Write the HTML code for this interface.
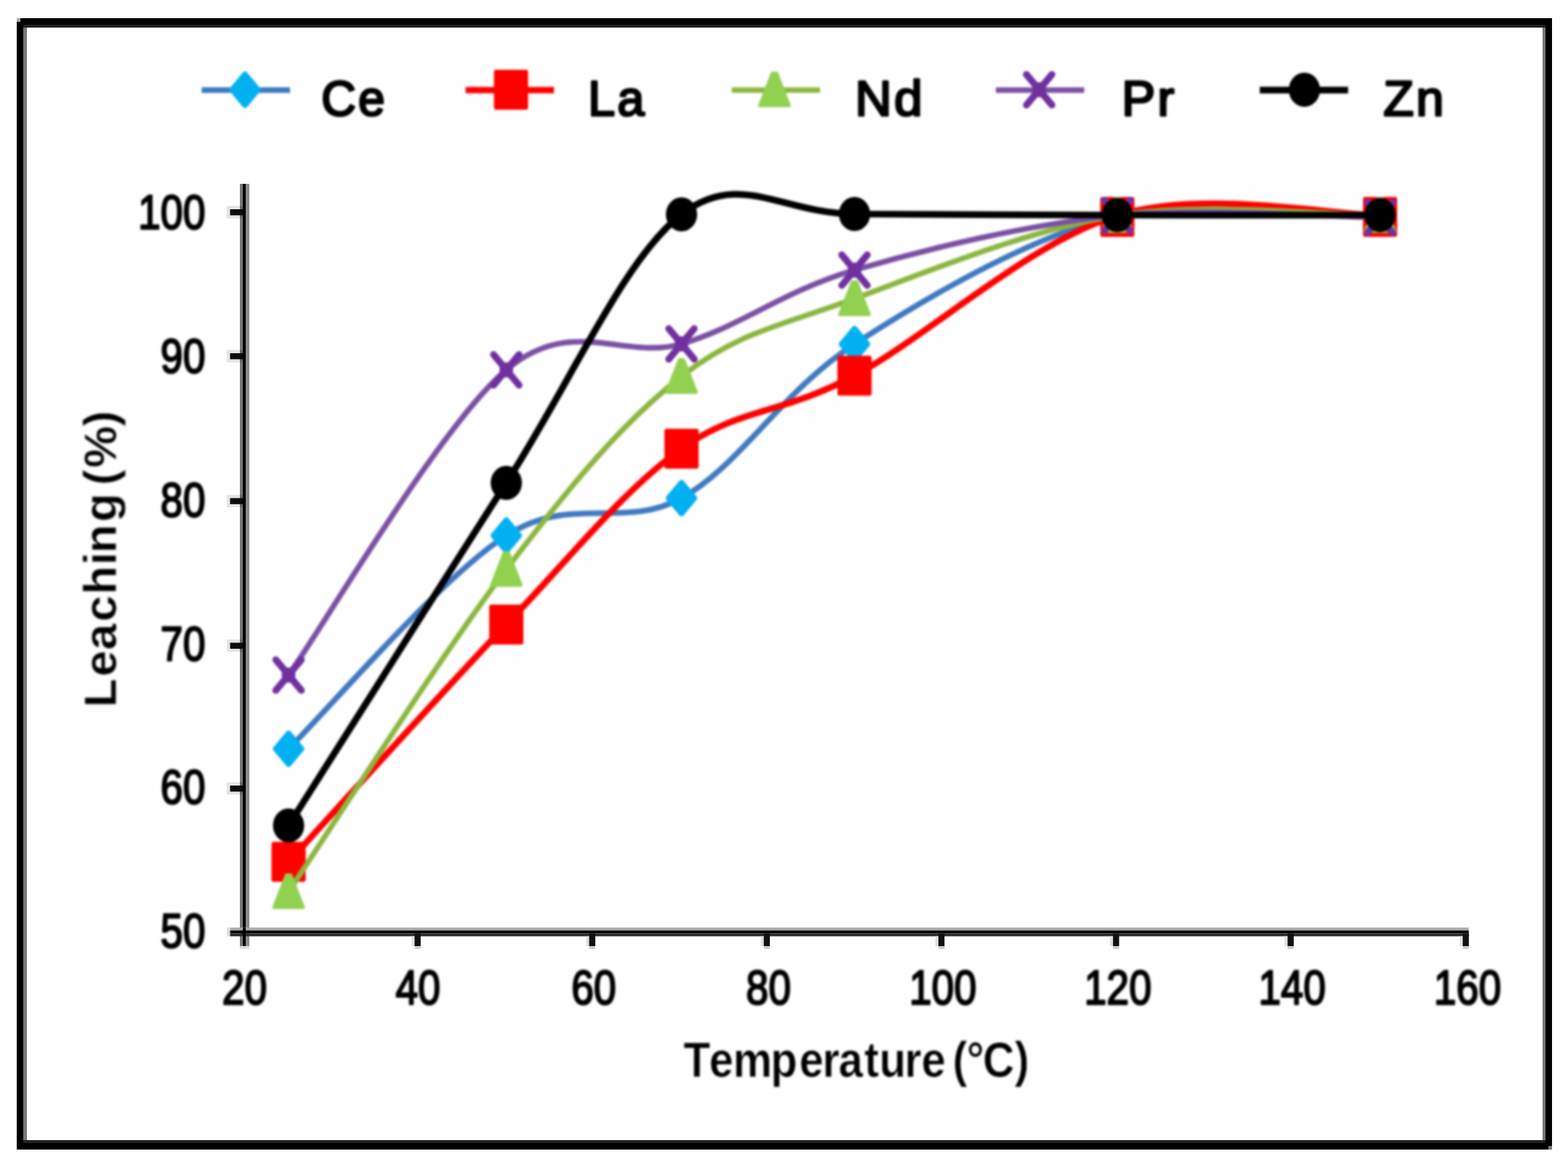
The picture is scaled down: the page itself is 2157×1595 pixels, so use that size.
<!DOCTYPE html>
<html lang="en"><head><meta charset="utf-8"><title>Leaching (%) vs Temperature (°C)</title>
<style>html,body{margin:0;padding:0;background:#fefefe;}body{width:2157px;height:1595px;overflow:hidden;}svg{display:block;}text{font-family:"Liberation Sans",Arial,Helvetica,sans-serif;fill:#000;}</style></head><body>
<svg width="2157" height="1595" viewBox="0 0 2157 1595">
<defs><filter id="soft" x="0" y="0" width="2157" height="1595" filterUnits="userSpaceOnUse" color-interpolation-filters="sRGB"><feGaussianBlur stdDeviation="1.5"/></filter><filter id="soft2" x="0" y="0" width="2157" height="1595" filterUnits="userSpaceOnUse" color-interpolation-filters="sRGB"><feGaussianBlur stdDeviation="0.7"/></filter></defs>
<rect x="0.0" y="0.0" width="2157.0" height="1595.0" fill="#fefefe"/>
<g id="frame">
<rect x="23.0" y="25.0" width="2112.0" height="1557.0" fill="#000"/>
<rect x="32.0" y="34.0" width="2094.0" height="1539.0" fill="#777"/>
<rect x="32.0" y="34.0" width="2094.0" height="4.0" fill="#222"/>
<rect x="32.0" y="1569.0" width="2094.0" height="4.0" fill="#222"/>
<rect x="37.0" y="38.0" width="2085.0" height="1531.0" fill="#fefefe"/>
<rect x="23.0" y="25.0" width="5.0" height="5.0" fill="#aaa"/>
<rect x="2130.0" y="1577.0" width="5.0" height="5.0" fill="#777"/>
</g>
<g id="axes" filter="url(#soft2)">
<rect x="330.0" y="253.0" width="13.0" height="1049.0" fill="#8a8a8a"/>
<rect x="330.0" y="253.0" width="4.0" height="1049.0" fill="#777"/>
<rect x="334.0" y="253.0" width="4.0" height="1049.0" fill="#000"/>
<rect x="330.0" y="1302.0" width="13.0" height="4.0" fill="#ddd"/>
<rect x="312.0" y="1276.5" width="4.5" height="12.0" fill="#ddd"/>
<rect x="316.5" y="1276.5" width="1704.0" height="4.0" fill="#aaa"/>
<rect x="316.5" y="1280.5" width="1704.0" height="4.0" fill="#000"/>
<rect x="316.5" y="1284.5" width="1704.0" height="4.0" fill="#2a2a2a"/>
<rect x="334.0" y="1276.5" width="4.0" height="25.5" fill="#000"/>
<rect x="312.0" y="283.5" width="18.0" height="17.0" fill="#e4e4e4"/>
<rect x="330.0" y="283.5" width="4.0" height="17.0" fill="#666"/>
<rect x="316.5" y="288.0" width="17.5" height="8.3" fill="#0c0c0c"/>
<rect x="312.0" y="481.6" width="18.0" height="17.0" fill="#e4e4e4"/>
<rect x="330.0" y="481.6" width="4.0" height="17.0" fill="#666"/>
<rect x="316.5" y="486.1" width="17.5" height="8.3" fill="#0c0c0c"/>
<rect x="312.0" y="681.0" width="18.0" height="17.0" fill="#e4e4e4"/>
<rect x="330.0" y="681.0" width="4.0" height="17.0" fill="#666"/>
<rect x="316.5" y="685.5" width="17.5" height="8.3" fill="#0c0c0c"/>
<rect x="312.0" y="880.0" width="18.0" height="17.0" fill="#e4e4e4"/>
<rect x="330.0" y="880.0" width="4.0" height="17.0" fill="#666"/>
<rect x="316.5" y="884.5" width="17.5" height="8.3" fill="#0c0c0c"/>
<rect x="312.0" y="1076.6" width="18.0" height="17.0" fill="#e4e4e4"/>
<rect x="330.0" y="1076.6" width="4.0" height="17.0" fill="#666"/>
<rect x="316.5" y="1081.1" width="17.5" height="8.3" fill="#0c0c0c"/>
<rect x="566.1" y="1288.5" width="8.4" height="13.5" fill="#e0e0e0"/>
<rect x="570.3" y="1302.0" width="8.4" height="4.0" fill="#ccc"/>
<rect x="570.3" y="1284.5" width="8.4" height="17.5" fill="#111"/>
<rect x="806.3" y="1288.5" width="8.4" height="13.5" fill="#e0e0e0"/>
<rect x="810.5" y="1302.0" width="8.4" height="4.0" fill="#ccc"/>
<rect x="810.5" y="1284.5" width="8.4" height="17.5" fill="#111"/>
<rect x="1046.5" y="1288.5" width="8.4" height="13.5" fill="#e0e0e0"/>
<rect x="1050.7" y="1302.0" width="8.4" height="4.0" fill="#ccc"/>
<rect x="1050.7" y="1284.5" width="8.4" height="17.5" fill="#111"/>
<rect x="1286.7" y="1288.5" width="8.4" height="13.5" fill="#e0e0e0"/>
<rect x="1290.9" y="1302.0" width="8.4" height="4.0" fill="#ccc"/>
<rect x="1290.9" y="1284.5" width="8.4" height="17.5" fill="#111"/>
<rect x="1526.9" y="1288.5" width="8.4" height="13.5" fill="#e0e0e0"/>
<rect x="1531.1" y="1302.0" width="8.4" height="4.0" fill="#ccc"/>
<rect x="1531.1" y="1284.5" width="8.4" height="17.5" fill="#111"/>
<rect x="1767.1" y="1288.5" width="8.4" height="13.5" fill="#e0e0e0"/>
<rect x="1771.3" y="1302.0" width="8.4" height="4.0" fill="#ccc"/>
<rect x="1771.3" y="1284.5" width="8.4" height="17.5" fill="#111"/>
<rect x="2008.0" y="1288.5" width="8.4" height="13.5" fill="#e0e0e0"/>
<rect x="2012.2" y="1302.0" width="8.4" height="4.0" fill="#ccc"/>
<rect x="2012.2" y="1284.5" width="8.4" height="17.5" fill="#111"/>
</g>
<g id="chart" filter="url(#soft)">
<g id="ticklabels">
<text transform="translate(282.6 315.4) scale(0.8950 1.0900)" font-size="62" font-weight="normal" text-anchor="end" stroke="#000" stroke-width="2.3" stroke-linejoin="round">100</text>
<text transform="translate(282.6 513.1) scale(0.8950 1.0900)" font-size="62" font-weight="normal" text-anchor="end" stroke="#000" stroke-width="2.3" stroke-linejoin="round">90</text>
<text transform="translate(282.6 710.8) scale(0.8950 1.0900)" font-size="62" font-weight="normal" text-anchor="end" stroke="#000" stroke-width="2.3" stroke-linejoin="round">80</text>
<text transform="translate(282.6 908.5) scale(0.8950 1.0900)" font-size="62" font-weight="normal" text-anchor="end" stroke="#000" stroke-width="2.3" stroke-linejoin="round">70</text>
<text transform="translate(282.6 1106.2) scale(0.8950 1.0900)" font-size="62" font-weight="normal" text-anchor="end" stroke="#000" stroke-width="2.3" stroke-linejoin="round">60</text>
<text transform="translate(282.6 1303.9) scale(0.8950 1.0900)" font-size="62" font-weight="normal" text-anchor="end" stroke="#000" stroke-width="2.3" stroke-linejoin="round">50</text>
<text transform="translate(336.4 1381.8) scale(0.8950 1.0900)" font-size="62" font-weight="normal" text-anchor="middle" stroke="#000" stroke-width="2.3" stroke-linejoin="round">20</text>
<text transform="translate(575.0 1381.8) scale(0.8950 1.0900)" font-size="62" font-weight="normal" text-anchor="middle" stroke="#000" stroke-width="2.3" stroke-linejoin="round">40</text>
<text transform="translate(816.8 1381.8) scale(0.8950 1.0900)" font-size="62" font-weight="normal" text-anchor="middle" stroke="#000" stroke-width="2.3" stroke-linejoin="round">60</text>
<text transform="translate(1057.2 1381.8) scale(0.8950 1.0900)" font-size="62" font-weight="normal" text-anchor="middle" stroke="#000" stroke-width="2.3" stroke-linejoin="round">80</text>
<text transform="translate(1297.0 1381.8) scale(0.8950 1.0900)" font-size="62" font-weight="normal" text-anchor="middle" stroke="#000" stroke-width="2.3" stroke-linejoin="round">100</text>
<text transform="translate(1537.8 1381.8) scale(0.8950 1.0900)" font-size="62" font-weight="normal" text-anchor="middle" stroke="#000" stroke-width="2.3" stroke-linejoin="round">120</text>
<text transform="translate(1777.5 1381.8) scale(0.8950 1.0900)" font-size="62" font-weight="normal" text-anchor="middle" stroke="#000" stroke-width="2.3" stroke-linejoin="round">140</text>
<text transform="translate(2018.8 1381.8) scale(0.8950 1.0900)" font-size="62" font-weight="normal" text-anchor="middle" stroke="#000" stroke-width="2.3" stroke-linejoin="round">160</text>
</g>
<g id="titles">
<text transform="translate(0.0 1481.8) scale(1.0200 1.1700)" font-size="59" x="921.9 956.5 988.8 1039.3 1078.0 1109.3 1130.8 1165.7 1185.8 1219.8 1242.6 1273.4 1284.7 1303.7 1325.6 1368.5" y="0" font-weight="bold" stroke="#fefefe" stroke-width="0.6">Temperature (°C)</text>
<text transform="translate(159.8 970.0) rotate(-90) scale(1.0600 1.0200)" font-size="61" x="-3.4 36.7 71.2 108.0 143.1 181.4 197.0 237.4 270.6 285.1 307.8 361.6" y="0" font-weight="bold" stroke="#fefefe" stroke-width="0.6">Leaching (%)</text>
</g>
<g id="series" fill="none" stroke-linejoin="round" stroke-linecap="butt">
<path d="M397.0 1030.5 C446.9 981.6 606.4 794.5 696.5 737.0 C786.6 679.5 857.7 729.4 937.5 685.5 C1017.3 641.6 1075.6 538.3 1175.5 473.5 C1275.4 408.7 1416.5 326.0 1537.0 296.5 C1657.5 267.0 1838.2 296.5 1898.5 296.5" stroke="#3f7ac2" stroke-width="7.8"/>
<g><path d="M397.0 1009.5 L414.5 1030.5 L397.0 1051.5 L379.5 1030.5Z" fill="#00b0f0" stroke="#00b0f0" stroke-width="8" stroke-linejoin="round"/><path d="M696.5 716.0 L714.0 737.0 L696.5 758.0 L679.0 737.0Z" fill="#00b0f0" stroke="#00b0f0" stroke-width="8" stroke-linejoin="round"/><path d="M937.5 664.5 L955.0 685.5 L937.5 706.5 L920.0 685.5Z" fill="#00b0f0" stroke="#00b0f0" stroke-width="8" stroke-linejoin="round"/><path d="M1175.5 452.5 L1193.0 473.5 L1175.5 494.5 L1158.0 473.5Z" fill="#00b0f0" stroke="#00b0f0" stroke-width="8" stroke-linejoin="round"/><path d="M1537.0 275.5 L1554.5 296.5 L1537.0 317.5 L1519.5 296.5Z" fill="#00b0f0" stroke="#00b0f0" stroke-width="8" stroke-linejoin="round"/><path d="M1898.5 275.5 L1916.0 296.5 L1898.5 317.5 L1881.0 296.5Z" fill="#00b0f0" stroke="#00b0f0" stroke-width="8" stroke-linejoin="round"/></g>
<path d="M397.0 1186.0 C446.9 1131.6 606.4 954.2 696.5 859.5 C786.6 764.8 857.7 674.6 937.5 617.5 C1017.3 560.4 1075.6 570.5 1175.5 517.0 C1275.4 463.5 1416.5 333.2 1537.0 296.5 C1657.5 259.8 1838.2 296.5 1898.5 296.5" stroke="#ff0000" stroke-width="8.8"/>
<g><rect x="373.5" y="1158.5" width="47.0" height="55.0" rx="3" fill="#ff0000"/><rect x="673.0" y="832.0" width="47.0" height="55.0" rx="3" fill="#ff0000"/><rect x="914.0" y="590.0" width="47.0" height="55.0" rx="3" fill="#ff0000"/><rect x="1152.0" y="489.5" width="47.0" height="55.0" rx="3" fill="#ff0000"/><rect x="1513.5" y="271.0" width="47.0" height="55.0" rx="3" fill="#ff0000"/><rect x="1875.0" y="271.0" width="47.0" height="55.0" rx="3" fill="#ff0000"/></g>
<path d="M397.0 1227.0 C446.9 1153.1 606.4 901.7 696.5 783.5 C786.6 665.3 857.7 580.1 937.5 518.0 C1017.3 455.9 1075.6 447.9 1175.5 411.0 C1275.4 374.1 1416.5 315.6 1537.0 296.5 C1657.5 277.4 1838.2 296.5 1898.5 296.5" stroke="#8cb63f" stroke-width="7.4"/>
<g><path d="M394.0 1204.0 L400.0 1204.0 L417.5 1249.0 L376.5 1249.0Z" fill="#92d050" stroke="#92d050" stroke-width="4" stroke-linejoin="round"/><path d="M693.5 760.5 L699.5 760.5 L717.0 805.5 L676.0 805.5Z" fill="#92d050" stroke="#92d050" stroke-width="4" stroke-linejoin="round"/><path d="M934.5 495.0 L940.5 495.0 L958.0 540.0 L917.0 540.0Z" fill="#92d050" stroke="#92d050" stroke-width="4" stroke-linejoin="round"/><path d="M1172.5 388.0 L1178.5 388.0 L1196.0 433.0 L1155.0 433.0Z" fill="#92d050" stroke="#92d050" stroke-width="4" stroke-linejoin="round"/><path d="M1534.0 273.5 L1540.0 273.5 L1557.5 318.5 L1516.5 318.5Z" fill="#92d050" stroke="#92d050" stroke-width="4" stroke-linejoin="round"/><path d="M1895.5 273.5 L1901.5 273.5 L1919.0 318.5 L1878.0 318.5Z" fill="#92d050" stroke="#92d050" stroke-width="4" stroke-linejoin="round"/></g>
<path d="M397.0 929.0 C446.9 859.0 606.4 585.0 696.5 509.0 C786.6 433.1 857.7 496.2 937.5 473.3 C1017.3 450.4 1075.6 401.2 1175.5 371.7 C1275.4 342.2 1416.5 308.5 1537.0 296.5 C1657.5 284.5 1838.2 299.0 1898.5 299.5" stroke="#7a51a3" stroke-width="7.6"/>
<g><path d="M379.5 908.0 L414.5 950.0 M414.5 908.0 L379.5 950.0" stroke="#7030a0" stroke-width="9.5" stroke-linecap="round" fill="none"/><ellipse cx="397.0" cy="929.0" rx="9.5" ry="10.5" fill="#7030a0"/><path d="M679.0 488.0 L714.0 530.0 M714.0 488.0 L679.0 530.0" stroke="#7030a0" stroke-width="9.5" stroke-linecap="round" fill="none"/><ellipse cx="696.5" cy="509.0" rx="9.5" ry="10.5" fill="#7030a0"/><path d="M920.0 452.3 L955.0 494.3 M955.0 452.3 L920.0 494.3" stroke="#7030a0" stroke-width="9.5" stroke-linecap="round" fill="none"/><ellipse cx="937.5" cy="473.3" rx="9.5" ry="10.5" fill="#7030a0"/><path d="M1158.0 350.7 L1193.0 392.7 M1193.0 350.7 L1158.0 392.7" stroke="#7030a0" stroke-width="9.5" stroke-linecap="round" fill="none"/><ellipse cx="1175.5" cy="371.7" rx="9.5" ry="10.5" fill="#7030a0"/><path d="M1519.5 275.5 L1554.5 317.5 M1554.5 275.5 L1519.5 317.5" stroke="#7030a0" stroke-width="9.5" stroke-linecap="round" fill="none"/><ellipse cx="1537.0" cy="296.5" rx="9.5" ry="10.5" fill="#7030a0"/><path d="M1881.0 278.5 L1916.0 320.5 M1916.0 278.5 L1881.0 320.5" stroke="#7030a0" stroke-width="9.5" stroke-linecap="round" fill="none"/><ellipse cx="1898.5" cy="299.5" rx="9.5" ry="10.5" fill="#7030a0"/></g>
<path d="M397.0 1136.0 C446.9 1057.4 606.4 804.7 696.5 664.5 C786.6 524.3 857.7 356.7 937.5 295.0 C1017.3 233.3 1075.6 294.3 1175.5 294.5 C1275.4 294.7 1416.5 295.8 1537.0 296.0 C1657.5 296.2 1838.2 296.0 1898.5 296.0" stroke="#000000" stroke-width="9.2"/>
<g><ellipse cx="397.0" cy="1136.0" rx="21.5" ry="23.5" fill="#000000"/><ellipse cx="696.5" cy="664.5" rx="21.5" ry="23.5" fill="#000000"/><ellipse cx="937.5" cy="295.0" rx="21.5" ry="23.5" fill="#000000"/><ellipse cx="1175.5" cy="294.5" rx="21.5" ry="23.5" fill="#000000"/><ellipse cx="1537.0" cy="296.0" rx="21.5" ry="23.5" fill="#000000"/><ellipse cx="1898.5" cy="296.0" rx="21.5" ry="23.5" fill="#000000"/></g>
</g>
<g id="legend">
<rect x="277.5" y="120.1" width="121.5" height="7.8" fill="#3f7ac2"/>
<path d="M337.0 102.5 L354.5 123.5 L337.0 144.5 L319.5 123.5Z" fill="#00b0f0" stroke="#00b0f0" stroke-width="8" stroke-linejoin="round"/>
<text transform="translate(442.0 158.8) scale(1.0015 1.0250)" font-size="66" font-weight="normal" text-anchor="start" letter-spacing="3" stroke="#000" stroke-width="3.0" stroke-linejoin="round">Ce</text>
<rect x="640.6" y="119.6" width="121.5" height="8.8" fill="#ff0000"/>
<rect x="679.5" y="96.0" width="47.0" height="55.0" rx="3" fill="#ff0000"/>
<text transform="translate(809.0 158.8) scale(1.0111 1.0250)" font-size="66" font-weight="normal" text-anchor="start" letter-spacing="3" stroke="#000" stroke-width="3.0" stroke-linejoin="round">La</text>
<rect x="1006.6" y="120.3" width="121.5" height="7.4" fill="#8cb63f"/>
<path d="M1062.4 100.5 L1068.4 100.5 L1085.9 145.5 L1044.9 145.5Z" fill="#92d050" stroke="#92d050" stroke-width="4" stroke-linejoin="round"/>
<text transform="translate(1176.3 158.8) scale(1.0593 1.0250)" font-size="66" font-weight="normal" text-anchor="start" letter-spacing="3" stroke="#000" stroke-width="3.0" stroke-linejoin="round">Nd</text>
<rect x="1370.0" y="120.2" width="121.5" height="7.6" fill="#7a51a3"/>
<path d="M1412.0 102.5 L1447.0 144.5 M1447.0 102.5 L1412.0 144.5" stroke="#7030a0" stroke-width="9.5" stroke-linecap="round" fill="none"/><ellipse cx="1429.5" cy="123.5" rx="9.5" ry="10.5" fill="#7030a0"/>
<text transform="translate(1543.0 158.8) scale(1.0497 1.0250)" font-size="66" font-weight="normal" text-anchor="start" letter-spacing="3" stroke="#000" stroke-width="3.0" stroke-linejoin="round">Pr</text>
<rect x="1733.0" y="119.4" width="121.5" height="9.2" fill="#000000"/>
<ellipse cx="1794.4" cy="123.5" rx="21.5" ry="23.5" fill="#000000"/>
<text transform="translate(1903.0 158.8) scale(1.0400 1.0250)" font-size="66" font-weight="normal" text-anchor="start" letter-spacing="3" stroke="#000" stroke-width="3.0" stroke-linejoin="round">Zn</text>
</g>
</g>
</svg></body></html>
